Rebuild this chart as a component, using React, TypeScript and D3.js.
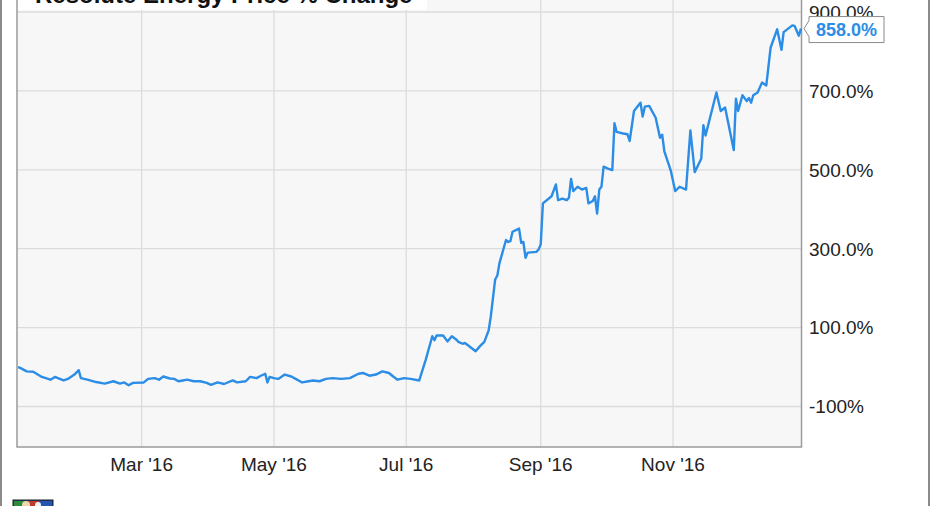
import React from "react";
import * as d3 from "d3";

const TITLE = "Resolute Energy Price % Change";
const LAST_LABEL = "858.0%";

const dates: string[] = [
  "2016-01-04","2016-01-05","2016-01-08","2016-01-11","2016-01-15","2016-01-19","2016-01-21","2016-01-25","2016-01-27","2016-01-30",
  "2016-02-01","2016-02-02","2016-02-05","2016-02-09","2016-02-13","2016-02-17","2016-02-20","2016-02-22","2016-02-24","2016-02-26",
  "2016-03-02","2016-03-04","2016-03-07","2016-03-09","2016-03-11","2016-03-14","2016-03-16","2016-03-18","2016-03-20","2016-03-22",
  "2016-03-25","2016-03-28","2016-03-31","2016-04-02","2016-04-05","2016-04-08","2016-04-12","2016-04-14","2016-04-18","2016-04-20",
  "2016-04-23","2016-04-25","2016-04-27","2016-04-28","2016-04-29","2016-05-01","2016-05-03","2016-05-06","2016-05-09","2016-05-11",
  "2016-05-14","2016-05-17","2016-05-19","2016-05-22","2016-05-25","2016-05-28","2016-06-01","2016-06-05","2016-06-09","2016-06-11",
  "2016-06-14","2016-06-17","2016-06-20","2016-06-23","2016-06-25","2016-06-27","2016-06-30","2016-07-03","2016-07-07","2016-07-10",
  "2016-07-13","2016-07-14","2016-07-15","2016-07-18","2016-07-20","2016-07-22","2016-07-24","2016-07-25","2016-07-27","2016-07-28",
  "2016-07-29","2016-08-02","2016-08-04","2016-08-06","2016-08-08","2016-08-09","2016-08-11","2016-08-12","2016-08-13","2016-08-16",
  "2016-08-17","2016-08-18","2016-08-19","2016-08-22","2016-08-23","2016-08-24","2016-08-25","2016-08-26","2016-08-30","2016-08-31",
  "2016-09-01","2016-09-02","2016-09-06","2016-09-08","2016-09-09","2016-09-11","2016-09-13","2016-09-14","2016-09-15","2016-09-16",
  "2016-09-18","2016-09-20","2016-09-22","2016-09-23","2016-09-25","2016-09-26","2016-09-27","2016-09-28","2016-09-29","2016-09-30",
  "2016-10-02","2016-10-04","2016-10-05","2016-10-06","2016-10-09","2016-10-11","2016-10-12","2016-10-14","2016-10-17","2016-10-18",
  "2016-10-19","2016-10-21","2016-10-24","2016-10-26","2016-10-27","2016-10-28","2016-10-31","2016-11-02","2016-11-04","2016-11-07",
  "2016-11-09","2016-11-11","2016-11-14","2016-11-15","2016-11-16","2016-11-21","2016-11-23","2016-11-25","2016-11-29","2016-11-30",
  "2016-12-01","2016-12-03","2016-12-05","2016-12-06","2016-12-07","2016-12-08","2016-12-10","2016-12-12","2016-12-14","2016-12-16",
  "2016-12-19","2016-12-21","2016-12-22","2016-12-26","2016-12-27","2016-12-29","2016-12-30",
];

const values: number[] = [
  0, -2, -11, -12, -25, -32, -25, -34, -30, -19,
  -8, -28, -32, -38, -42, -36, -42, -39, -46, -40,
  -39, -30, -28, -32, -24, -29, -30, -36, -34, -32,
  -36, -36, -40, -45, -39, -43, -34, -39, -36, -25,
  -28, -22, -17, -39, -25, -28, -30, -19, -24, -30,
  -39, -36, -34, -36, -30, -28, -30, -28, -17, -15,
  -22, -19, -11, -15, -24, -32, -28, -30, -34, 19,
  78, 68, 80, 80, 65, 78, 70, 64, 59, 61,
  57, 40, 53, 64, 93, 129, 222, 232, 264, 322,
  317, 319, 343, 351, 315, 317, 277, 290, 292, 298,
  311, 415, 433, 463, 423, 427, 423, 429, 477, 446,
  457, 450, 454, 415, 421, 433, 389, 450, 457, 508,
  503, 499, 618, 596, 592, 590, 573, 649, 670, 635,
  660, 662, 632, 581, 589, 547, 497, 446, 457, 450,
  600, 494, 528, 613, 587, 696, 649, 658, 550, 680,
  649, 689, 674, 682, 670, 689, 696, 721, 714, 810,
  856, 804, 849, 866, 865, 840, 858,
];

const yTicks: number[] = [-100, 100, 300, 500, 700, 900];
const yTickLabels: string[] = ["-100%", "100.0%", "300.0%", "500.0%", "700.0%", "900.0%"];
const xTicks: string[] = ["2016-03-01", "2016-05-01", "2016-07-01", "2016-09-01", "2016-11-01"];
const xTickLabels: string[] = ["Mar '16", "May '16", "Jul '16", "Sep '16", "Nov '16"];

const W = 931;
const H = 506;
const LINE = "#2b8de6";
const FONT = "'Liberation Sans', Arial, sans-serif";

export default function App() {
  const parse = d3.timeParse("%Y-%m-%d");
  const data = dates.map((d, i) => ({ date: parse(d) as Date, value: values[i] }));

  const x = d3
    .scaleTime()
    .domain([parse("2016-01-04") as Date, parse("2016-12-30") as Date])
    .range([18, 801]);
  const y = d3.scaleLinear().domain([-100, 900]).range([406.5, 12]);

  const plotLeft = 17;
  const plotRight = 801.5;
  const plotBottom = 447;

  const line = d3
    .line<{ date: Date; value: number }>()
    .x((d) => x(d.date))
    .y((d) => y(d.value))
    .curve(d3.curveLinear);

  const last = data[data.length - 1];
  const lx = x(last.date);
  const ly = y(last.value);
  const boxX = 809;
  const boxW = 75;
  const boxH = 26;
  const boxY = ly - boxH / 2 + 1;

  return (
    <svg
      width={W}
      height={H}
      style={{ position: "absolute", left: 0, top: 0, background: "#ffffff" }}
    >
      {/* outer frame */}
      <line x1={1} x2={1} y1={0} y2={H} stroke="#8a8a8a" strokeWidth={2} />
      <line x1={929} x2={929} y1={0} y2={H} stroke="#8a8a8a" strokeWidth={2} />

      {/* plot background */}
      <rect x={plotLeft} y={-5} width={plotRight - plotLeft} height={plotBottom + 5} fill="#f7f7f7" />

      {/* grid */}
      {yTicks.map((t) => (
        <line key={"gy" + t} x1={plotLeft} x2={plotRight} y1={y(t)} y2={y(t)} stroke="#dcdcdc" strokeWidth={1.3} />
      ))}
      {xTicks.map((t) => {
        const xv = x(parse(t) as Date);
        return <line key={"gx" + t} x1={xv} x2={xv} y1={-5} y2={plotBottom} stroke="#dcdcdc" strokeWidth={1.3} />;
      })}

      {/* title box */}
      <rect x={plotLeft + 1} y={-2} width={409} height={12} fill="#ffffff" />
      <text x={35} y={3} fontFamily={FONT} fontWeight="bold" fontSize={24} fill="#111">
        {TITLE}
      </text>

      {/* plot border */}
      <path
        d={`M${plotLeft},-5 V${plotBottom} H${plotRight} V-5`}
        fill="none"
        stroke="#9a9a9a"
        strokeWidth={1.5}
      />

      {/* data line */}
      <path d={line(data) || ""} fill="none" stroke={LINE} strokeWidth={2.4} strokeLinejoin="round" />

      {/* y labels */}
      {yTicks.map((t, i) => (
        <text key={"yl" + t} x={809} y={y(t)} dy="0.36em" fontFamily={FONT} fontSize={19} fill="#222">
          {yTickLabels[i]}
        </text>
      ))}

      {/* x labels */}
      {xTicks.map((t, i) => (
        <text
          key={"xl" + t}
          x={x(parse(t) as Date)}
          y={471}
          textAnchor="middle"
          fontFamily={FONT}
          fontSize={19}
          fill="#222"
        >
          {xTickLabels[i]}
        </text>
      ))}

      {/* last value callout */}
      <path
        d={`M${lx + 3},${ly} L${boxX},${boxY + 4} V${boxY} H${boxX + boxW} V${boxY + boxH} H${boxX} V${boxY + boxH - 6} Z`}
        fill="#ffffff"
        stroke="#8a8a8a"
        strokeWidth={1}
      />
      <text
        x={boxX + boxW / 2}
        y={boxY + boxH / 2}
        dy="0.36em"
        textAnchor="middle"
        fontFamily={FONT}
        fontWeight="bold"
        fontSize={18}
        fill={LINE}
      >
        {LAST_LABEL}
      </text>

      {/* small logo */}
      <g>
        <rect x={13} y={500} width={40} height={8} fill="#1b3a7a" stroke="#222" strokeWidth={1} />
        <rect x={14} y={501} width={13} height={7} fill="#2e8b3a" />
        <rect x={27} y={501} width={12} height={7} fill="#c0392b" />
        <rect x={39} y={501} width={13} height={7} fill="#2456b0" />
        <circle cx={26} cy={505} r={4} fill="#e8d9b0" />
        <circle cx={38} cy={505} r={3} fill="#f2f2f2" />
      </g>
    </svg>
  );
}
